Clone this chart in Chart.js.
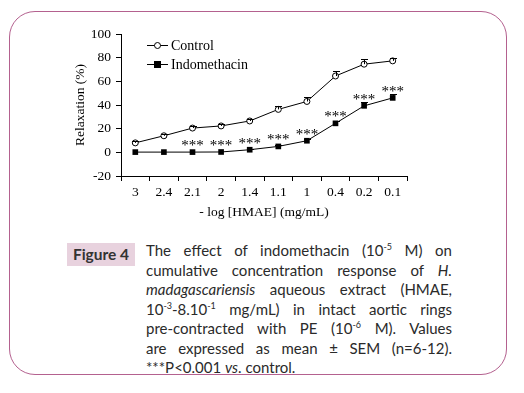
<!DOCTYPE html>
<html>
<head>
<meta charset="utf-8">
<script src="https://cdn.jsdelivr.net/npm/chart.js@4/dist/chart.umd.min.js"></script>
<style>
  html, body { margin:0; padding:0; background:#fff; }
  body { width:524px; height:393px; position:relative; overflow:hidden; }
  #frame { position:absolute; left:9px; top:11px; width:498px; height:364px;
           border:1.5px solid #b4618f; border-radius:26px; box-sizing:border-box; }
  #chartWrap { position:absolute; left:0; top:0; width:524px; height:225px; }
  #figLabel { position:absolute; left:67px; top:243px; width:68px; height:23px;
              background:#e8d2de; color:#333; font-family:Lato, "Open Sans", sans-serif;
              font-weight:bold; font-size:15.5px; line-height:23px; text-align:center; }
  #caption { position:absolute; left:146px; top:241px; width:306px;
             font-family:Lato, "Open Sans", sans-serif; font-size:15px; color:#2a2a2a; line-height:19.5px; }
  #caption .l { display:block; text-align:justify; text-align-last:justify; white-space:nowrap; }
  #caption .last { text-align-last:left; }
  #caption sup { font-size:9px; vertical-align:6px; line-height:0; }
</style>
</head>
<body>
<div id="frame"></div>
<div id="chartWrap"><canvas id="c" width="524" height="225"></canvas></div>
<div id="figLabel">Figure 4</div>
<div id="caption">
  <span class="l">The effect of indomethacin (10<sup>-5</sup> M) on</span>
  <span class="l">cumulative concentration response of <i>H.</i></span>
  <span class="l"><i>madagascariensis</i> aqueous extract (HMAE,</span>
  <span class="l">10<sup>-3</sup>-8.10<sup>-1</sup> mg/mL) in intact aortic rings</span>
  <span class="l">pre-contracted with PE (10<sup>-6</sup> M). Values</span>
  <span class="l">are expressed as mean ± SEM (n=6-12).</span>
  <span class="l last">***P&lt;0.001 <i>vs</i>. control.</span>
</div>
<script>
const categories = ["3", "2.4", "2.1", "2", "1.4", "1.1", "1", "0.4", "0.2", "0.1"];
const controlValues = [8, 14, 20.5, 22.3, 26.5, 36.3, 43, 64.5, 74.5, 77.3];
const controlErrors = [1.5, 1.5, 2, 2, 2, 2.5, 3.5, 4, 4, 2.5];
const indoValues = [0.2, 0.2, 0.2, 0.3, 2.2, 5, 9.8, 24.5, 39.3, 46];
const indoErrors = [0, 0, 0, 0, 0.5, 1, 1.5, 2, 3.5, 3.4];
const significance = ["", "", "***", "***", "***", "***", "***", "***", "***", "***"];
const yTicks = [-20, 0, 20, 40, 60, 80, 100];
const seriesNames = ["Control", "Indomethacin"];

const serif = "'Liberation Serif', 'Times New Roman', serif";

const errorBarPlugin = {
  id: 'errorBars',
  afterDatasetsDraw(chart) {
    const ctx = chart.ctx;
    const y = chart.scales.y;
    const errs = [controlErrors, indoErrors];
    ctx.save();
    ctx.strokeStyle = '#000';
    ctx.lineWidth = 1;
    chart.data.datasets.forEach((ds, di) => {
      const meta = chart.getDatasetMeta(di);
      meta.data.forEach((pt, i) => {
        const e = errs[di][i];
        if (!e) return;
        const top = Math.round(y.getPixelForValue(ds.data[i] + e)) + 0.5;
        const x = Math.round(pt.x) + 0.5;
        ctx.beginPath();
        ctx.moveTo(x, pt.y);
        ctx.lineTo(x, top);
        ctx.moveTo(x - 3.5, top);
        ctx.lineTo(x + 3.5, top);
        ctx.stroke();
      });
    });
    ctx.restore();
  },
  afterDraw(chart) {
    const ctx = chart.ctx;
    const y = chart.scales.y;
    ctx.save();
    // significance marks
    ctx.fillStyle = '#000';
    ctx.font = "15px " + serif;
    ctx.textAlign = 'center';
    ctx.textBaseline = 'alphabetic';
    const meta = chart.getDatasetMeta(1);
    meta.data.forEach((pt, i) => {
      if (!significance[i]) return;
      const top = Math.min(pt.y - 4, y.getPixelForValue(indoValues[i] + indoErrors[i]));
      ctx.fillText(significance[i], pt.x, top + 2);
    });
    // legend
    const lx1 = 147, lx2 = 168, ly = [45, 64];
    chart.data.datasets.forEach((ds, di) => {
      ctx.strokeStyle = '#000';
      ctx.lineWidth = 1;
      ctx.beginPath();
      ctx.moveTo(lx1, ly[di] + 0.5);
      ctx.lineTo(lx2, ly[di] + 0.5);
      ctx.stroke();
      const cx = (lx1 + lx2) / 2;
      if (di === 0) {
        ctx.fillStyle = '#fff';
        ctx.beginPath();
        ctx.arc(cx, ly[di] + 0.5, 3, 0, Math.PI * 2);
        ctx.fill();
        ctx.stroke();
      } else {
        ctx.fillStyle = '#000';
        ctx.fillRect(cx - 3.5, ly[di] - 3, 7, 7);
      }
      ctx.fillStyle = '#000';
      ctx.font = "14px " + serif;
      ctx.textAlign = 'left';
      ctx.textBaseline = 'middle';
      ctx.fillText(ds.label, lx2 + 3, ly[di] + 1);
    });
    ctx.restore();
  }
};

new Chart(document.getElementById('c'), {
  type: 'line',
  data: {
    labels: categories,
    datasets: [
      { label: seriesNames[0], data: controlValues, borderColor: '#000', borderWidth: 1,
        pointStyle: 'circle', pointRadius: 3, pointBackgroundColor: '#fff', pointBorderColor: '#000',
        pointBorderWidth: 1, tension: 0 },
      { label: seriesNames[1], data: indoValues, borderColor: '#000', borderWidth: 1,
        pointStyle: 'rect', pointRadius: 4, pointBackgroundColor: '#000', pointBorderColor: '#000',
        pointBorderWidth: 0, tension: 0 }
    ]
  },
  options: {
    responsive: false,
    animation: false,
    devicePixelRatio: 1,
    layout: { padding: { left: 68, top: 34, right: 117, bottom: 0 } },
    plugins: { legend: { display: false }, tooltip: { enabled: false } },
    scales: {
      x: {
        type: 'category',
        offset: true,
        grid: { offset: true, drawOnChartArea: false, drawTicks: true, tickLength: 5, color: '#000' },
        border: { color: '#000', width: 1 },
        ticks: { color: '#000', font: { family: serif, size: 13.5 }, padding: 3, maxRotation: 0 },
        title: { display: true, text: '- log [HMAE] (mg/mL)', color: '#000',
                 font: { family: serif, size: 13.5 }, padding: { top: 4, bottom: 4 } },
        afterFit(scale) { scale.height = 49; }
      },
      y: {
        min: -20, max: 100,
        afterBuildTicks(scale) { scale.ticks = yTicks.map(v => ({ value: v })); },
        grid: { drawOnChartArea: false, drawTicks: true, tickLength: 5, color: '#000' },
        border: { color: '#000', width: 1 },
        ticks: { color: '#000', font: { family: serif, size: 13.5 }, padding: 5 },
        title: { display: true, text: 'Relaxation (%)', color: '#000',
                 font: { family: serif, size: 13.5 }, padding: { top: 4, bottom: 4 } },
        afterFit(scale) { scale.width = 53; }
      }
    }
  },
  plugins: [errorBarPlugin]
});
</script>
</body>
</html>
